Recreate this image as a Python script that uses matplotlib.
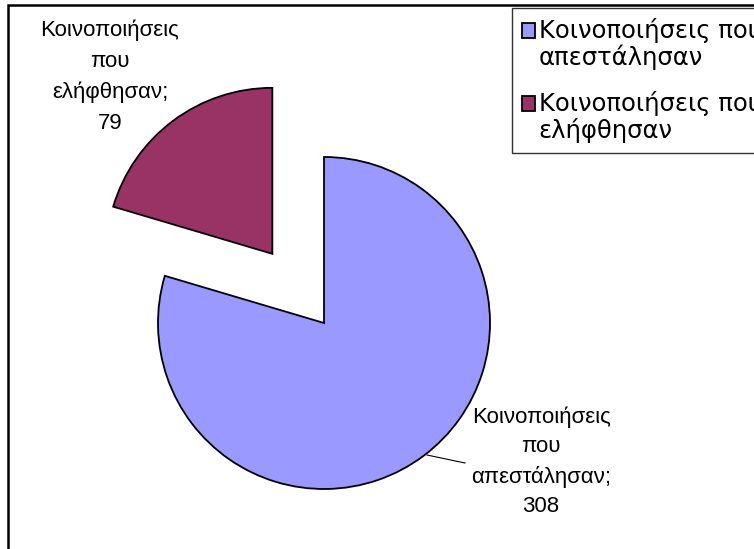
import matplotlib.pyplot as plt
from matplotlib.patches import Rectangle
from matplotlib.legend_handler import HandlerPatch

plt.rcParams['font.family'] = ['Liberation Sans', 'DejaVu Sans']

# data
names = ['Κοινοποιήσεις που απεστάλησαν', 'Κοινοποιήσεις που ελήφθησαν']
values = [308, 79]
colors = ['#9999FF', '#993366']

W, H = 754, 549
fig = plt.figure(figsize=(W / 100, H / 100), dpi=100)
ax = fig.add_axes([0, 0, 1, 1])

# pie drawn in pixel-like coords (y from bottom)
cx, cy, r = 324, H - 323, 166
wedges, _ = ax.pie(values, colors=colors, explode=[0, 0.52 * r], startangle=90,
                   counterclock=False, center=(cx, cy), radius=r,
                   wedgeprops=dict(edgecolor='black', linewidth=1.3))
ax.set_xlim(0, W)
ax.set_ylim(0, H)
ax.set_aspect('equal')
ax.axis('off')

# data labels
def lab(name, v):
    a, b = name.rsplit(' ', 1)
    return '\n'.join(a.split(' ') + [b + ';', str(v)])

ax.text(110, H - 77, lab(names[1], values[1]), ha='center', va='center',
        fontsize=16, linespacing=1.6)
ax.text(541, H - 462, lab(names[0], values[0]), ha='center', va='center',
        fontsize=16, linespacing=1.52)
ax.plot([427, 465], [H - 455, H - 463], color='black', linewidth=0.8)


# legend square next to the first line of each two-line entry
def top_square(legend, orig_handle, xdescent, ydescent, width, height, fontsize):
    return Rectangle((-xdescent, -ydescent + 0.58 * fontsize), width, height)


leg_labels = [n.replace(' που ', ' που\n') for n in names]
leg = ax.legend(wedges, leg_labels, loc='upper left',
                bbox_to_anchor=(512 / W, 1 - 8 / H), bbox_transform=fig.transFigure,
                prop={'family': 'DejaVu Sans', 'size': 17.5}, frameon=True,
                fancybox=False, borderpad=0.4, handlelength=0.55,
                handleheight=0.55, handletextpad=0.15, labelspacing=0.85,
                borderaxespad=0,
                handler_map={w: HandlerPatch(patch_func=top_square) for w in wedges})
for t in leg.get_texts():
    t.set_linespacing(1.1)
leg.get_frame().set_edgecolor('black')
leg.get_frame().set_linewidth(1.0)

# outer border of the chart area
fig.patches.append(Rectangle((8 / W, -0.1), 1.2, 1 - 5 / H + 0.1,
                             transform=fig.transFigure, fill=False,
                             edgecolor='black', linewidth=1.8))

fig.savefig('out.png', dpi=100)
